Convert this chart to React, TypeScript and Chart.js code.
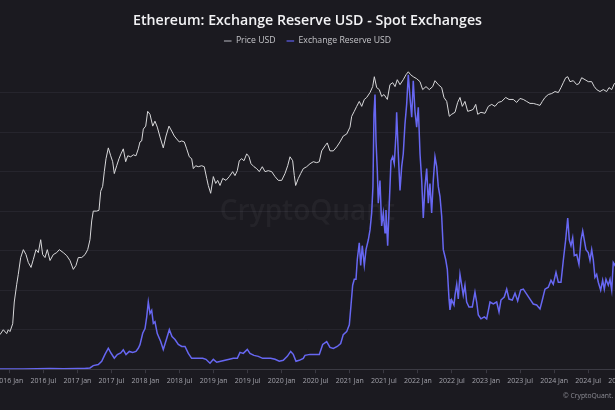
import React, { useEffect, useRef } from "react";
import { Chart, registerables } from "chart.js";

Chart.register(...registerables);

const TITLE = "Ethereum: Exchange Reserve USD - Spot Exchanges";
const SERIES_NAMES = ["Price USD", "Exchange Reserve USD"];
const LEGEND_MARKER_COLORS = ["#85858b", "#5252c4"];
const WATERMARK = "CryptoQuant";
const COPYRIGHT = "© CryptoQuant. All Rights Reserved.";
const FONT = "'Open Sans', 'Noto Sans', sans-serif";

const tickValues = [2015.5, 2016, 2016.5, 2017, 2017.5, 2018, 2018.5, 2019, 2019.5, 2020, 2020.5, 2021, 2021.5, 2022, 2022.5, 2023, 2023.5, 2024, 2024.5, 2025, 2025.5, 2026];
const tickLabels = ["2015 Jul", "2016 Jan", "2016 Jul", "2017 Jan", "2017 Jul", "2018 Jan", "2018 Jul", "2019 Jan", "2019 Jul", "2020 Jan", "2020 Jul", "2021 Jan", "2021 Jul", "2022 Jan", "2022 Jul", "2023 Jan", "2023 Jul", "2024 Jan", "2024 Jul", "2025 Jan", "2025 Jul", "2026 Jan"];

const priceYears = [
  2015.62, 2015.68, 2015.75, 2015.81, 2015.863, 2015.912, 2015.962, 2015.985, 2016.010, 2016.050,
  2016.073, 2016.109, 2016.132, 2016.167, 2016.206, 2016.245, 2016.279, 2016.319, 2016.352, 2016.392,
  2016.426, 2016.461, 2016.490, 2016.524, 2016.558, 2016.598, 2016.646, 2016.696, 2016.734, 2016.793,
  2016.843, 2016.891, 2016.940, 2016.979, 2017.013, 2017.063, 2017.112, 2017.151, 2017.185, 2017.210,
  2017.233, 2017.283, 2017.317, 2017.342, 2017.371, 2017.395, 2017.420, 2017.454, 2017.489, 2017.518,
  2017.542, 2017.577, 2017.611, 2017.640, 2017.674, 2017.709, 2017.739, 2017.783, 2017.821, 2017.860,
  2017.894, 2017.919, 2017.944, 2017.968, 2018.003, 2018.032, 2018.066, 2018.106, 2018.139, 2018.173,
  2018.213, 2018.261, 2018.301, 2018.345, 2018.385, 2018.423, 2018.458, 2018.496, 2018.532, 2018.570,
  2018.605, 2018.643, 2018.678, 2018.702, 2018.737, 2018.775, 2018.825, 2018.863, 2018.899, 2018.922,
  2018.957, 2018.996, 2019.031, 2019.060, 2019.094, 2019.134, 2019.182, 2019.230, 2019.280, 2019.314,
  2019.348, 2019.377, 2019.413, 2019.446, 2019.486, 2019.520, 2019.549, 2019.593, 2019.633, 2019.671,
  2019.715, 2019.755, 2019.803, 2019.853, 2019.902, 2019.950, 2020.000, 2020.048, 2020.088, 2020.122,
  2020.161, 2020.185, 2020.205, 2020.244, 2020.279, 2020.317, 2020.367, 2020.416, 2020.464, 2020.514,
  2020.552, 2020.587, 2020.636, 2020.669, 2020.709, 2020.758, 2020.808, 2020.856, 2020.904, 2020.954,
  2021.003, 2021.028, 2021.066, 2021.101, 2021.139, 2021.175, 2021.213, 2021.248, 2021.297, 2021.336,
  2021.360, 2021.395, 2021.433, 2021.468, 2021.502, 2021.551, 2021.590, 2021.630, 2021.664, 2021.697,
  2021.737, 2021.785, 2021.825, 2021.859, 2021.894, 2021.932, 2021.982, 2022.031, 2022.070, 2022.119,
  2022.167, 2022.217, 2022.251, 2022.299, 2022.349, 2022.383, 2022.423, 2022.461, 2022.496, 2022.545,
  2022.584, 2022.618, 2022.652, 2022.691, 2022.731, 2022.780, 2022.813, 2022.849, 2022.878, 2022.926,
  2022.985, 2023.034, 2023.084, 2023.132, 2023.180, 2023.230, 2023.289, 2023.338, 2023.401, 2023.451,
  2023.499, 2023.548, 2023.597, 2023.646, 2023.694, 2023.744, 2023.793, 2023.827, 2023.866, 2023.915,
  2023.965, 2024.013, 2024.062, 2024.101, 2024.135, 2024.170, 2024.200, 2024.233, 2024.282, 2024.332,
  2024.365, 2024.405, 2024.454, 2024.502, 2024.552, 2024.590, 2024.625, 2024.674, 2024.722, 2024.772,
  2024.806, 2024.846, 2024.884, 2024.920, 2024.960,
];
const priceUsd = [
  2.0, 1.3, 0.75, 0.95, 0.86, 1.01, 0.89, 1.01, 0.95, 1.23,
  2.51, 4.5, 6.22, 10.8, 14.0, 11.9, 9.19, 7.81, 10.1, 14.0,
  12.7, 19.4, 11.9, 10.8, 14.0, 9.8, 11.9, 12.7, 14.0, 12.7,
  11.5, 9.8, 7.32, 8.33, 10.8, 10.8, 11.9, 14.0, 19.4, 35.9,
  49.6, 49.6, 51, 95, 112, 181, 277, 395, 305, 251,
  170, 220, 277, 325, 383, 251, 305, 295, 315, 305,
  383, 480, 496, 732, 807, 1312, 1190, 807, 949, 781,
  565, 395, 583, 807, 686, 583, 529, 480, 496, 480,
  383, 295, 277, 200, 220, 213, 220, 213, 145, 115,
  89, 154, 123, 136, 115, 145, 136, 154, 181, 159,
  187, 259, 277, 259, 325, 295, 235, 213, 200, 181,
  213, 181, 187, 181, 154, 136, 136, 170, 220, 295,
  259, 159, 115, 145, 170, 200, 213, 235, 251, 243,
  251, 358, 422, 465, 358, 358, 408, 480, 583, 622,
  781, 1115, 1312, 1543, 1815, 1543, 1937, 2066, 2430, 2952,
  4083, 2858, 2678, 2134, 2277, 1937, 3150, 3361, 2952, 3704,
  3150, 3704, 4357, 4802, 4357, 4083, 3826, 3472, 2678, 2952,
  2678, 2952, 3587, 3150, 2858, 2066, 1815, 1115, 1190, 1270,
  1757, 2066, 1543, 1815, 1312, 1355, 1400, 1647, 1190, 1270,
  1229, 1543, 1647, 1543, 1757, 1815, 2066, 1937, 1937, 1757,
  2000, 1937, 1815, 1701, 1701, 1647, 1594, 1815, 2066, 2277,
  2352, 2510, 2430, 2858, 3361, 3951, 4083, 3472, 3587, 3150,
  3254, 3951, 3704, 3472, 3472, 2952, 2678, 2510, 2678, 2510,
  2858, 2678, 3254, 3400, 3600,
];

const reserveYears = [
  2015.62, 2015.80, 2016.00, 2016.20, 2016.40, 2016.60, 2016.80, 2017.00, 2017.10, 2017.185,
  2017.233, 2017.307, 2017.357, 2017.405, 2017.454, 2017.493, 2017.542, 2017.586, 2017.636, 2017.674,
  2017.714, 2017.762, 2017.812, 2017.860, 2017.894, 2017.919, 2017.959, 2017.993, 2018.018, 2018.041,
  2018.066, 2018.091, 2018.115, 2018.139, 2018.173, 2018.223, 2018.261, 2018.311, 2018.350, 2018.389,
  2018.433, 2018.482, 2018.532, 2018.580, 2018.629, 2018.678, 2018.727, 2018.775, 2018.840, 2018.888,
  2018.947, 2018.996, 2019.046, 2019.105, 2019.168, 2019.230, 2019.289, 2019.348, 2019.388, 2019.436,
  2019.495, 2019.534, 2019.593, 2019.656, 2019.721, 2019.780, 2019.838, 2019.902, 2019.965, 2020.023,
  2020.082, 2020.132, 2020.170, 2020.210, 2020.258, 2020.317, 2020.342, 2020.416, 2020.489, 2020.552,
  2020.602, 2020.661, 2020.709, 2020.758, 2020.816, 2020.866, 2020.904, 2020.954, 2020.993, 2021.018,
  2021.042, 2021.066, 2021.091, 2021.110, 2021.139, 2021.160, 2021.183, 2021.213, 2021.238, 2021.272,
  2021.297, 2021.321, 2021.340, 2021.355, 2021.370, 2021.385, 2021.404, 2021.418, 2021.443, 2021.468,
  2021.492, 2021.517, 2021.531, 2021.556, 2021.580, 2021.605, 2021.630, 2021.653, 2021.678, 2021.688,
  2021.712, 2021.737, 2021.762, 2021.785, 2021.810, 2021.835, 2021.859, 2021.884, 2021.909, 2021.932,
  2021.957, 2021.982, 2022.006, 2022.031, 2022.056, 2022.079, 2022.104, 2022.129, 2022.153, 2022.177,
  2022.202, 2022.226, 2022.251, 2022.276, 2022.299, 2022.324, 2022.349, 2022.373, 2022.408, 2022.432,
  2022.457, 2022.471, 2022.496, 2022.530, 2022.545, 2022.570, 2022.593, 2022.618, 2022.643, 2022.666,
  2022.691, 2022.716, 2022.750, 2022.799, 2022.838, 2022.863, 2022.887, 2022.926, 2022.975, 2023.010,
  2023.059, 2023.107, 2023.157, 2023.191, 2023.220, 2023.268, 2023.304, 2023.338, 2023.386, 2023.426,
  2023.465, 2023.509, 2023.548, 2023.597, 2023.646, 2023.694, 2023.744, 2023.793, 2023.827, 2023.866,
  2023.915, 2023.954, 2023.988, 2024.028, 2024.062, 2024.101, 2024.135, 2024.170, 2024.200, 2024.223,
  2024.248, 2024.273, 2024.296, 2024.332, 2024.365, 2024.395, 2024.420, 2024.443, 2024.468, 2024.502,
  2024.527, 2024.552, 2024.575, 2024.600, 2024.625, 2024.649, 2024.684, 2024.713, 2024.737, 2024.762,
  2024.796, 2024.821, 2024.846, 2024.869, 2024.894, 2024.930, 2024.970,
];
// Exchange reserve in billions of USD
const reserveUsdB = [
  0.01, 0.02, 0.04, 0.08, 0.12, 0.15, 0.12, 0.15, 0.2, 0.33,
  0.9, 1.2, 2.0, 3.75, 5.3, 4.1, 2.8, 3.7, 4.1, 4.9,
  3.7, 4.5, 4.25, 4.5, 5.3, 6.2, 9.1, 10.3, 13.25, 17.0,
  14.1, 14.9, 11.6, 12.0, 9.0, 7.0, 5.0, 7.75, 10.0, 8.25,
  7.5, 6.25, 5.75, 5.75, 4.0, 2.75, 2.75, 2.75, 2.75, 2.5,
  1.5, 2.5, 1.75, 2.0, 2.25, 2.5, 2.75, 2.75, 4.25, 4.0,
  5.0, 4.0, 3.5, 3.25, 2.75, 2.75, 2.75, 2.5, 2.0, 2.25,
  3.25, 4.5, 3.75, 2.0, 2.25, 2.75, 3.5, 3.75, 3.75, 3.75,
  6.25, 7.0, 5.5, 5.25, 5.75, 6.5, 8.75, 9.5, 11.25, 16.25,
  21.25, 22.75, 22.75, 27.75, 32.0, 26.25, 31.25, 26.25, 30.25, 32.75,
  35.25, 39.5, 46.25, 64.5, 69.5, 57.75, 50.25, 42.0, 47.75, 36.25,
  39.5, 34.5, 40.25, 31.25, 42.0, 52.75, 53.75, 52.0, 59.5, 65.0,
  54.5, 45.25, 51.25, 54.5, 62.0, 67.0, 74.5, 68.75, 63.75, 73.0,
  65.25, 61.25, 66.25, 54.5, 47.75, 38.25, 46.25, 50.75, 42.0, 47.0,
  39.5, 47.75, 53.75, 51.25, 46.25, 43.75, 38.75, 30.25, 27.75, 25.25,
  17.75, 15.0, 17.5, 16.25, 18.75, 21.5, 17.75, 24.0, 21.25, 18.75,
  21.25, 17.0, 15.75, 15.75, 19.5, 17.0, 13.75, 12.75, 13.25, 12.75,
  17.0, 16.5, 17.0, 14.5, 17.5, 18.25, 20.25, 17.75, 17.5, 19.25,
  17.25, 20.0, 20.25, 19.0, 17.75, 16.5, 16.25, 15.25, 17.5, 20.25,
  20.75, 22.5, 21.5, 24.5, 22.0, 22.0, 27.5, 32.75, 38.25, 32.75,
  31.25, 33.25, 28.75, 29.0, 26.5, 32.75, 35.0, 32.75, 30.25, 29.5,
  27.5, 30.25, 27.75, 23.25, 24.0, 22.0, 20.0, 22.5, 20.25, 22.75,
  21.25, 22.75, 20.0, 27.0, 26.25, 28.0, 30.0,
];

const CANVAS_W = 815;
const CANVAS_H = 410;
const OFFSET_X = -100;

export default function App() {
  const ref = useRef<HTMLCanvasElement>(null);

  useEffect(() => {
    const canvas = ref.current;
    if (!canvas) return;
    const zeroWidth = (s: any) => {
      s.width = 0;
    };
    const overlay = {
      id: "overlay",
      beforeDatasetsDraw(chart: any) {
        const { ctx, chartArea } = chart;
        ctx.save();
        ctx.font = "600 28px " + FONT;
        ctx.fillStyle = "rgba(255,255,255,0.045)";
        ctx.textAlign = "center";
        ctx.textBaseline = "middle";
        ctx.fillText(WATERMARK, (chartArea.left + chartArea.right) / 2, (chartArea.top + chartArea.bottom) / 2);
        ctx.restore();
      },
      afterDraw(chart: any) {
        const { ctx } = chart;
        ctx.save();
        ctx.font = "6.8px " + FONT;
        ctx.fillStyle = "#8e8e96";
        ctx.textAlign = "left";
        ctx.textBaseline = "middle";
        ctx.fillText(COPYRIGHT, 663, 396);
        ctx.restore();
      },
    };

    Chart.defaults.font.family = FONT;
    const defaultLabels = Chart.defaults.plugins.legend.labels.generateLabels;

    const chart = new Chart(canvas, {
      type: "line",
      data: {
        datasets: [
          {
            label: SERIES_NAMES[0],
            data: priceYears.map((x, i) => ({ x, y: priceUsd[i] })),
            borderColor: "#d8d8da",
            backgroundColor: "#d8d8da",
            borderWidth: 1,
            pointRadius: 0,
            tension: 0,
            yAxisID: "yPrice",
          },
          {
            label: SERIES_NAMES[1],
            data: reserveYears.map((x, i) => ({ x, y: reserveUsdB[i] })),
            borderColor: "#6767f2",
            backgroundColor: "#6767f2",
            borderWidth: 1.5,
            pointRadius: 0,
            tension: 0,
            yAxisID: "yReserve",
          },
        ],
      },
      options: {
        responsive: false,
        animation: false,
        devicePixelRatio: 1,
        layout: { padding: { left: 0, right: 0, top: 0, bottom: 20.8 } },
        plugins: {
          title: {
            display: true,
            text: TITLE,
            color: "#f2f2f4",
            font: { size: 14.2, weight: "600" as any },
            padding: { top: 12.5, bottom: -3.9 },
          },
          legend: {
            display: true,
            labels: {
              color: "#c4c4c8",
              font: { size: 8.7 },
              usePointStyle: true,
              pointStyle: "line",
              pointStyleWidth: 7.6,
              boxHeight: 8,
              padding: 11,
              generateLabels: (c: any) =>
                defaultLabels(c).map((item: any, i: number) => ({
                  ...item,
                  strokeStyle: LEGEND_MARKER_COLORS[i],
                  lineWidth: 1.5,
                })),
            },
          },
          tooltip: { enabled: false },
        },
        scales: {
          x: {
            type: "linear",
            min: 2014.395,
            max: 2026.3627,
            afterBuildTicks: (scale: any) => {
              scale.ticks = tickValues.map((v) => ({ value: v }));
            },
            ticks: {
              color: "#a2a2aa",
              font: { size: 7 },
              maxRotation: 0,
              autoSkip: false,
              padding: 3.8,
              callback: (_v: any, i: number) => tickLabels[i],
            },
            grid: {
              display: true,
              drawOnChartArea: false,
              drawTicks: true,
              tickLength: 4,
              color: "#3b3a43",
            },
            border: { display: true, color: "#3b3a43" },
          },
          yPrice: {
            type: "logarithmic",
            position: "left",
            min: 0.2766,
            max: 8239,
            afterFit: zeroWidth,
            ticks: { display: false },
            grid: { display: false },
            border: { display: false },
          },
          yReserve: {
            type: "linear",
            position: "right",
            min: 0,
            max: 79.41,
            afterFit: zeroWidth,
            afterBuildTicks: (scale: any) => {
              scale.ticks = scale.ticks.filter((t: any) => Math.abs(t.value % 10) < 1e-6);
            },
            ticks: { display: false, stepSize: 10 },
            grid: { color: "#26252d", drawTicks: false },
            border: { display: false },
          },
        },
      },
      plugins: [overlay],
    });
    return () => chart.destroy();
  }, []);

  return (
    <div
      style={{
        position: "fixed",
        left: 0,
        top: 0,
        width: 615,
        height: 410,
        overflow: "hidden",
        background: "#1b1a20",
      }}
    >
      <div style={{ position: "absolute", left: OFFSET_X, top: 0, width: CANVAS_W, height: CANVAS_H }}>
        <canvas
          ref={ref}
          width={CANVAS_W}
          height={CANVAS_H}
          style={{ display: "block", width: CANVAS_W, height: CANVAS_H }}
        />
      </div>
    </div>
  );
}
